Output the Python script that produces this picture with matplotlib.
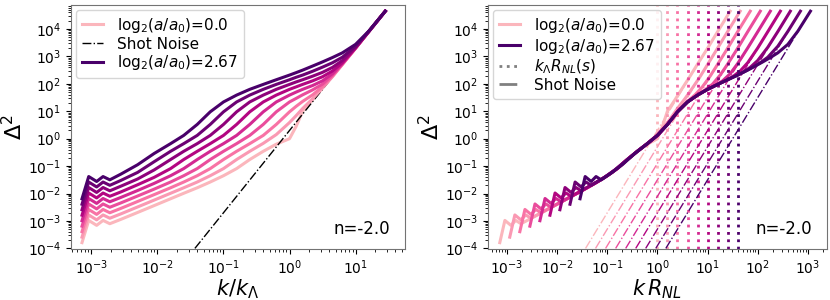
import numpy as np
import matplotlib
matplotlib.use('Agg')
import matplotlib.pyplot as plt
from matplotlib.lines import Line2D
from matplotlib.ticker import LogLocator, NullFormatter

# k/k_Lambda onde o espectro foi medido
k_grid = [7.2e-4, 9.1e-4, 1.2e-3, 1.5e-3, 1.9e-3, 2.8e-3, 5.0e-3, 8.9e-3, 1.58e-2, 2.5e-2,
          4.0e-2, 6.3e-2, 0.1, 0.158, 0.25, 0.4, 0.63, 1.0, 1.26, 1.58, 2.24, 3.16, 4.47,
          6.3, 10.0, 15.8, 28.2]

# log10(Delta^2) para cada log2(a/a0) = 0, 1/3, ..., 8/3
log_d2_s0 = [-3.79, -2.98, -3.16, -2.98, -3.10, -2.94, -2.69, -2.44, -2.19, -1.99, -1.79, -1.58, -1.35, -1.09, -0.76, -0.46, -0.20, 0.00, 0.45, 1.00, 1.42, 1.85, 2.28, 2.72, 3.30, 3.90, 4.65]
log_d2_s1 = [-3.59, -2.78, -2.96, -2.78, -2.90, -2.74, -2.49, -2.24, -1.99, -1.79, -1.58, -1.35, -1.09, -0.76, -0.46, -0.17, 0.15, 0.59, 0.84, 1.10, 1.46, 1.85, 2.26, 2.70, 3.30, 3.90, 4.65]
log_d2_s2 = [-3.39, -2.58, -2.76, -2.58, -2.70, -2.54, -2.29, -2.04, -1.79, -1.58, -1.35, -1.09, -0.76, -0.46, -0.18, 0.12, 0.52, 0.98, 1.18, 1.36, 1.60, 1.90, 2.28, 2.71, 3.30, 3.90, 4.65]
log_d2_s3 = [-3.19, -2.38, -2.56, -2.38, -2.50, -2.34, -2.09, -1.84, -1.58, -1.35, -1.09, -0.76, -0.46, -0.18, 0.12, 0.52, 0.98, 1.34, 1.47, 1.60, 1.78, 1.99, 2.32, 2.72, 3.30, 3.90, 4.65]
log_d2_s4 = [-2.99, -2.18, -2.36, -2.18, -2.30, -2.14, -1.89, -1.63, -1.35, -1.09, -0.76, -0.46, -0.18, 0.12, 0.52, 0.98, 1.34, 1.59, 1.70, 1.80, 1.94, 2.11, 2.37, 2.74, 3.31, 3.90, 4.65]
log_d2_s5 = [-2.79, -1.98, -2.16, -1.98, -2.10, -1.94, -1.68, -1.41, -1.09, -0.76, -0.46, -0.18, 0.12, 0.52, 0.98, 1.34, 1.59, 1.80, 1.89, 1.98, 2.11, 2.26, 2.47, 2.77, 3.31, 3.90, 4.65]
log_d2_s6 = [-2.59, -1.78, -1.96, -1.78, -1.90, -1.73, -1.47, -1.14, -0.76, -0.46, -0.18, 0.12, 0.52, 0.98, 1.34, 1.59, 1.80, 1.98, 2.07, 2.15, 2.28, 2.42, 2.60, 2.85, 3.33, 3.90, 4.65]
log_d2_s7 = [-2.39, -1.58, -1.76, -1.58, -1.70, -1.52, -1.23, -0.84, -0.46, -0.18, 0.12, 0.52, 0.98, 1.34, 1.59, 1.80, 1.98, 2.15, 2.24, 2.32, 2.46, 2.61, 2.77, 2.97, 3.37, 3.91, 4.65]
log_d2_s8 = [-2.19, -1.38, -1.56, -1.38, -1.50, -1.29, -0.95, -0.54, -0.18, 0.12, 0.52, 0.98, 1.34, 1.59, 1.80, 1.98, 2.15, 2.32, 2.41, 2.50, 2.65, 2.80, 2.96, 3.13, 3.44, 3.92, 4.65]

all_curves = [log_d2_s0, log_d2_s1, log_d2_s2, log_d2_s3, log_d2_s4,
              log_d2_s5, log_d2_s6, log_d2_s7, log_d2_s8]

# k_Lambda * R_NL(s) para cada snapshot
klam_rnl = [1.0, 1.58, 2.51, 3.98, 6.31, 10.0, 15.8, 25.1, 39.8]

# extremos da reta de shot noise (k/k_Lambda, Delta^2)
shot_k = [0.0369, 28.2]
shot_d2 = [1.0e-4, 4.5e4]

label_first = r'log$_2(a/a_0)$=0.0'
label_last = r'log$_2(a/a_0)$=2.67'
n_text = 'n=-2.0'

cores = plt.cm.RdPu(np.linspace(0.3, 1.0, len(all_curves)))
k = np.array(k_grid)

fig = plt.figure(figsize=(8.3, 3.0), dpi=100)
ax1 = fig.add_axes([0.0855, 0.17, 0.4024, 0.8133])
ax2 = fig.add_axes([0.588, 0.17, 0.4084, 0.8133])

# painel da esquerda: k/k_Lambda
for i, curva in enumerate(all_curves):
    lab = None
    if i == 0:
        lab = label_first
    if i == len(all_curves) - 1:
        lab = label_last
    ax1.plot(k, 10 ** np.array(curva), color=cores[i], lw=2.2, label=lab)
    if i == 0:
        ax1.plot(shot_k, shot_d2, color='black', ls='-.', lw=1.0, label='Shot Noise')

# painel da direita: k R_NL
for i, curva in enumerate(all_curves):
    R = klam_rnl[i]
    ax2.plot(k * R, 10 ** np.array(curva), color=cores[i], lw=2.2)
    ax2.axvline(R, color=cores[i], ls=':', lw=2.0)
    ax2.plot(np.array(shot_k) * R, shot_d2, color=cores[i], ls='-.', lw=1.0)

handles = [Line2D([], [], color=cores[0], lw=2.2),
           Line2D([], [], color=cores[-1], lw=2.2),
           Line2D([], [], color='gray', ls=':', lw=2.0),
           Line2D([], [], color='gray', ls='-.', lw=2.0)]
leg_kw = dict(loc='upper left', fontsize=11, handlelength=1.4, handletextpad=0.9,
              borderaxespad=0.3, labelspacing=0.12)
ax2.legend(handles, [label_first, label_last, r'$k_\Lambda R_{NL}(s)$', 'Shot Noise'], **leg_kw)
ax1.legend(**leg_kw)

for ax in [ax1, ax2]:
    ax.set_xscale('log')
    ax.set_yscale('log')
    ax.set_ylim(9.5e-5, 7.5e4)
    for eixo in [ax.xaxis, ax.yaxis]:
        eixo.set_major_locator(LogLocator(base=10, numticks=20))
        eixo.set_minor_locator(LogLocator(base=10, subs=np.arange(2, 10), numticks=20))
        eixo.set_minor_formatter(NullFormatter())
    ax.set_ylabel(r'$\Delta^2$', fontsize=16, labelpad=1)
    ax.tick_params(labelsize=10)
    for s in ax.spines.values():
        s.set_color('0.45')
    ax.text(0.955, 0.045, n_text, transform=ax.transAxes, ha='right', va='bottom', fontsize=12)

ax1.set_xlim(4.9e-4, 56)
ax2.set_xlim(4.2e-4, 2.4e3)
ax1.set_xlabel(r'$k/k_\Lambda$', fontsize=15, labelpad=0)
ax2.set_xlabel(r'$k\,R_{NL}$', fontsize=15, labelpad=0)

plt.savefig('out.png', dpi=100)
